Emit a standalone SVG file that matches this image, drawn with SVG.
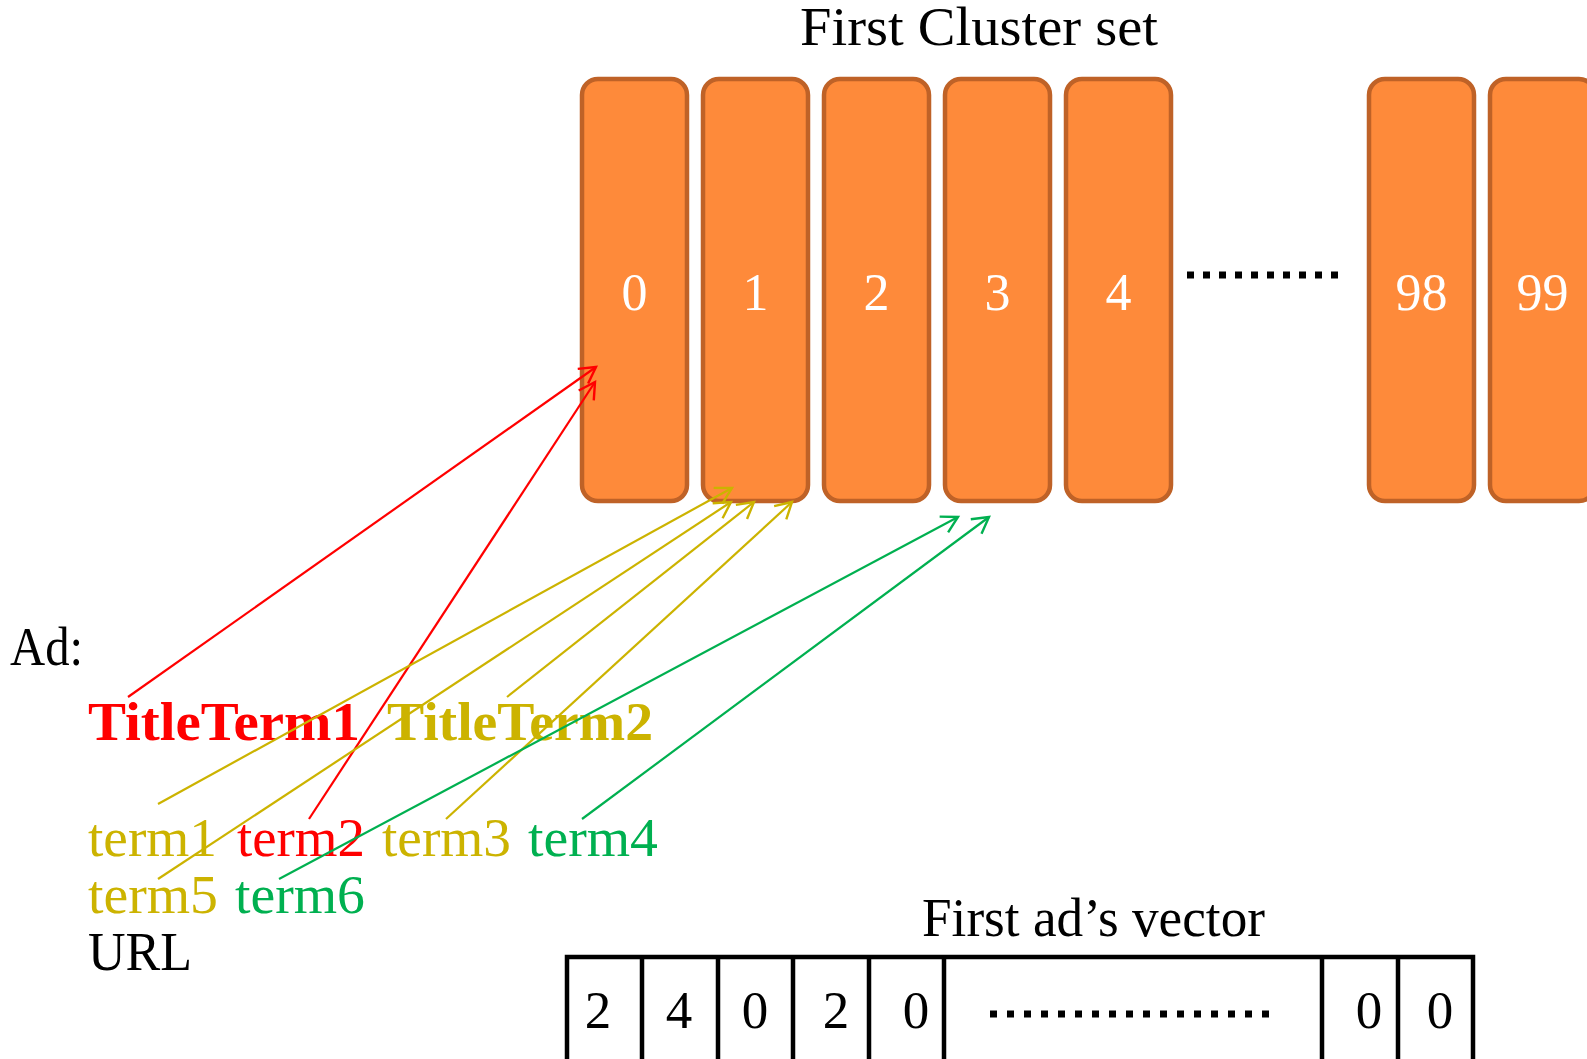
<svg xmlns="http://www.w3.org/2000/svg" width="1587" height="1059" viewBox="0 0 1587 1059">
<style>
text{font-family:"Liberation Serif","Times New Roman",serif;font-size:54px}
.box{fill:#FE8A3A;stroke:#BF6227;stroke-width:4.5}
.bl{fill:#fff;text-anchor:middle;font-size:52px}
.vd{fill:#000;text-anchor:middle;font-size:53px}
.cell{fill:none;stroke:#000;stroke-width:4.5}
.bold{font-weight:bold}
.red{fill:#FF0000}.yel{fill:#CCB300}.grn{fill:#00B050}
.cr{stroke:#FF0000}.cy{stroke:#CCB300}.cg{stroke:#00B050}
.con line{stroke-width:2.2;fill:none}
</style>
<defs>
<marker id="ar" markerUnits="userSpaceOnUse" markerWidth="40" markerHeight="40" viewBox="-20 -20 40 40" refX="0" refY="0" orient="auto"><path d="M -16 -9 L 0 0 L -16 9" fill="none" stroke="#FF0000" stroke-width="2.4"/></marker>
<marker id="ay" markerUnits="userSpaceOnUse" markerWidth="40" markerHeight="40" viewBox="-20 -20 40 40" refX="0" refY="0" orient="auto"><path d="M -16 -9 L 0 0 L -16 9" fill="none" stroke="#CCB300" stroke-width="2.4"/></marker>
<marker id="ag" markerUnits="userSpaceOnUse" markerWidth="40" markerHeight="40" viewBox="-20 -20 40 40" refX="0" refY="0" orient="auto"><path d="M -16 -9 L 0 0 L -16 9" fill="none" stroke="#00B050" stroke-width="2.4"/></marker>
</defs>
<rect width="1587" height="1059" fill="#fff"/>
<text id="title-clusters" x="800" y="45" textLength="358" lengthAdjust="spacingAndGlyphs">First Cluster set</text>
<g id="cluster-0"><rect class="box" x="582" y="79" width="105" height="422" rx="16"/><text class="bl" x="634.5" y="310">0</text></g>
<g id="cluster-1"><rect class="box" x="703" y="79" width="105" height="422" rx="16"/><text class="bl" x="755.5" y="310">1</text></g>
<g id="cluster-2"><rect class="box" x="824" y="79" width="105" height="422" rx="16"/><text class="bl" x="876.5" y="310">2</text></g>
<g id="cluster-3"><rect class="box" x="945" y="79" width="105" height="422" rx="16"/><text class="bl" x="997.5" y="310">3</text></g>
<g id="cluster-4"><rect class="box" x="1066" y="79" width="105" height="422" rx="16"/><text class="bl" x="1118.5" y="310">4</text></g>
<g id="cluster-dots"><line x1="1187" y1="275" x2="1338" y2="275" stroke="#000" stroke-width="7" stroke-dasharray="7 9"/></g>
<g id="cluster-98"><rect class="box" x="1369" y="79" width="105" height="422" rx="16"/><text class="bl" x="1421.5" y="310">98</text></g>
<g id="cluster-99"><rect class="box" x="1490" y="79" width="105" height="422" rx="16"/><text class="bl" x="1542.5" y="310">99</text></g>
<g id="ad">
<text x="10" y="665" textLength="73" lengthAdjust="spacingAndGlyphs">Ad:</text>
<text id="titleterm1" class="bold red" x="88" y="740" textLength="272" lengthAdjust="spacingAndGlyphs">TitleTerm1</text>
<text id="titleterm2" class="bold yel" x="387" y="740" textLength="266" lengthAdjust="spacingAndGlyphs">TitleTerm2</text>
<text id="term1" class="yel" x="88" y="856" textLength="129" lengthAdjust="spacingAndGlyphs">term1</text>
<text id="term2" class="red" x="237" y="856" textLength="128" lengthAdjust="spacingAndGlyphs">term2</text>
<text id="term3" class="yel" x="382" y="856" textLength="129" lengthAdjust="spacingAndGlyphs">term3</text>
<text id="term4" class="grn" x="528" y="856" textLength="130" lengthAdjust="spacingAndGlyphs">term4</text>
<text id="term5" class="yel" x="88" y="913" textLength="130" lengthAdjust="spacingAndGlyphs">term5</text>
<text id="term6" class="grn" x="235" y="913" textLength="130" lengthAdjust="spacingAndGlyphs">term6</text>
<text id="url" x="88" y="970" textLength="104" lengthAdjust="spacingAndGlyphs">URL</text>
</g>
<g id="vector">
<text x="922" y="936" textLength="343" lengthAdjust="spacingAndGlyphs">First ad’s vector</text>
<rect class="cell" x="567" y="957" width="906" height="200"/>
<path class="cell" d="M642 957V1080M718 957V1080M793 957V1080M869 957V1080M944 957V1080M1322 957V1080M1398 957V1080"/>
<text class="vd" x="598" y="1028">2</text>
<text class="vd" x="679" y="1028">4</text>
<text class="vd" x="755" y="1028">0</text>
<text class="vd" x="836" y="1028">2</text>
<text class="vd" x="916" y="1028">0</text>
<line x1="990" y1="1014" x2="1269" y2="1014" stroke="#000" stroke-width="7" stroke-dasharray="7 10"/>
<text class="vd" x="1369" y="1028">0</text>
<text class="vd" x="1440" y="1028">0</text>
</g>
<g id="connectors" class="con">
<line class="cr" x1="128" y1="697" x2="596" y2="367" marker-end="url(#ar)"/>
<line class="cr" x1="309" y1="819" x2="595" y2="382" marker-end="url(#ar)"/>
<line class="cy" x1="158" y1="804" x2="732" y2="488" marker-end="url(#ay)"/>
<line class="cy" x1="158" y1="879" x2="731" y2="502" marker-end="url(#ay)"/>
<line class="cy" x1="507" y1="697" x2="754" y2="502" marker-end="url(#ay)"/>
<line class="cy" x1="446" y1="819" x2="792" y2="502" marker-end="url(#ay)"/>
<line class="cg" x1="279" y1="879" x2="958" y2="517" marker-end="url(#ag)"/>
<line class="cg" x1="582" y1="819" x2="989" y2="517" marker-end="url(#ag)"/>
</g>
</svg>
